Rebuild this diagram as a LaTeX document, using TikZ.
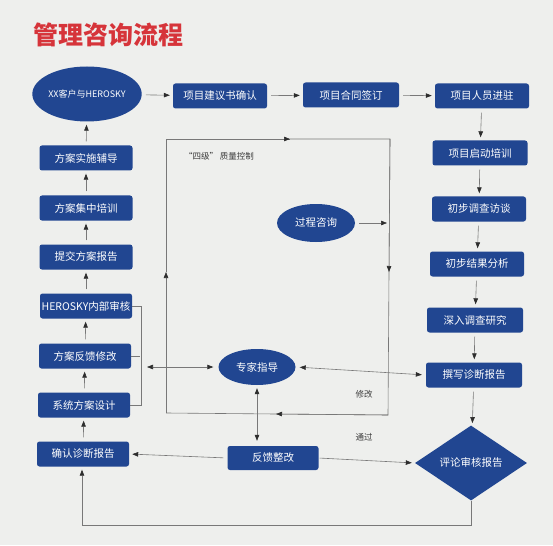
\documentclass[tikz,border=0pt]{standalone}
\usepackage{fontspec}
\setmainfont{Noto Sans CJK SC}
\usetikzlibrary{arrows.meta,shapes.geometric}
\definecolor{boxblue}{RGB}{33,70,145}
\definecolor{titlered}{RGB}{214,52,58}
\definecolor{bgc}{RGB}{238,239,237}
\definecolor{lnc}{RGB}{120,120,120}
\definecolor{tipc}{RGB}{45,45,45}
\definecolor{lblc}{RGB}{60,60,60}
\begin{document}
\begin{tikzpicture}[x=1pt,y=-1pt,
  box/.style={fill=boxblue, rounded corners=2.5pt, text=white, minimum width=94pt, minimum height=25pt, inner sep=0pt, font=\fontsize{10.5}{12}\selectfont},
  oval/.style={ellipse, fill=boxblue, text=white, inner sep=0pt, font=\fontsize{10.5}{12}\selectfont},
  dia/.style={diamond, fill=boxblue, text=white, inner sep=0pt, minimum width=112pt, minimum height=75pt, aspect=1.5, font=\fontsize{10.5}{12}\selectfont},
  line/.style={draw=lnc, line width=0.6pt},
  conn/.style={line, -{Triangle[length=6pt,width=4.5pt,color=tipc]}},
  bconn/.style={line, {Triangle[length=6pt,width=4.5pt,color=tipc]}-{Triangle[length=6pt,width=4.5pt,color=tipc]}},
  gap/.style={shorten >=3pt, shorten <=4pt},
  lbl/.style={text=lblc, font=\fontsize{8.5}{10}\selectfont, inner sep=0pt}]
\fill[bgc] (0,0) rectangle (553,545);
\useasboundingbox (0,0) rectangle (553,545);

\node[text=titlered, font=\fontsize{25}{28}\bfseries\selectfont, inner sep=0pt] (title) at (108,35) {管理咨询流程};

% top row
\node[oval, minimum width=103pt, minimum height=55pt, font=\fontsize{9}{11}\selectfont] (client) at (87,94) {XX客户与HEROSKY};
\node[box] (jyshu) at (220,96) {项目建议书确认};
\node[box, minimum width=96pt] (hetong) at (351,95) {项目合同签订};
\node[box] (renyuan) at (482,96) {项目人员进驻};

% right column
\node[box, minimum width=95pt] (qidong) at (480,153) {项目启动培训};
\node[box] (fangtan) at (479,209) {初步调查访谈};
\node[box] (jieguo) at (477,264) {初步结果分析};
\node[box, minimum width=96pt] (shenru) at (475,320) {深入调查研究};
\node[box, minimum width=96pt] (zhuanxie) at (474,375) {撰写诊断报告};
\node[dia] (pinglun) at (471,463) {评论审核报告};

% left column
\node[box, minimum width=93pt] (shishi) at (86,158) {方案实施辅导};
\node[box, minimum width=93pt] (jizhong) at (86,208) {方案集中培训};
\node[box, minimum width=93pt] (tijiao) at (86,257) {提交方案报告};
\node[box, minimum width=92pt] (neibu) at (86,306) {HEROSKY内部审核};
\node[box, minimum width=92pt] (fankui) at (85,356) {方案反馈修改};
\node[box, minimum width=92pt] (sheji) at (84,405) {系统方案设计};
\node[box, minimum width=92pt] (queren) at (83,454) {确认诊断报告};

% centre
\node[oval, minimum width=78pt, minimum height=38pt] (guocheng) at (316,223) {过程咨询};
\node[oval, minimum width=77pt, minimum height=36pt] (zhuanjia) at (257,367) {专家指导};
\node[box, minimum width=91pt, minimum height=24pt] (zhenggai) at (273,458) {反馈整改};

% labels
\node[lbl] (siji) at (219,156) {“四级” 质量控制};
\node[lbl] (xiugai) at (364,394) {修改};
\node[lbl] (tongguo) at (364,437) {通过};

% top row arrows
\draw[conn, gap] (client) -- (jyshu);
\draw[conn, gap] (jyshu) -- (hetong);
\draw[conn, gap] (hetong) -- (renyuan);

% right column arrows
\draw[conn, gap] (renyuan) -- (qidong);
\draw[conn, gap] (qidong) -- (fangtan);
\draw[conn, gap] (fangtan) -- (jieguo);
\draw[conn, gap] (jieguo) -- (shenru);
\draw[conn, gap] (shenru) -- (zhuanxie);
\draw[conn, gap] (zhuanxie) -- (pinglun);

% left column arrows
\draw[conn, gap] (queren) -- (sheji);
\draw[conn, gap] (sheji) -- (fankui);
\draw[conn, gap] (fankui) -- (neibu);
\draw[conn, gap] (neibu) -- (tijiao);
\draw[conn, gap] (tijiao) -- (jizhong);
\draw[conn, gap] (jizhong) -- (shishi);
\draw[conn, gap] (shishi) -- (client);

% bracket
\coordinate (br) at (140,356);
\draw[line] (neibu.east) -- ++(9,0) |- (sheji.east);
\draw[line] (fankui.east) -- (br);
\draw[bconn, shorten <=7pt, shorten >=5pt] (br |- zhuanjia) -- (zhuanjia.west);

% expert links
\draw[bconn, shorten <=4pt, shorten >=4pt] (zhuanjia.east) -- (zhuanxie.west);
\draw[bconn, shorten <=3pt, shorten >=5pt] (zhuanjia.south) -- (zhenggai.north -| zhuanjia.south);

% feedback
\draw[conn, gap] (zhenggai.west) -- (queren.east);
\draw[conn, shorten <=1pt, shorten >=3pt] (zhenggai.east) -- (pinglun.west);

% bottom return
\coordinate (brr) at (471,525);
\coordinate (brl) at (82,525);
\draw[line] (pinglun.south) -- (brr) -- (brl);
\draw[conn, shorten >=3pt] (brl) -- (queren.south -| brl);

% quality loop
\coordinate (lt) at (166,139);
\coordinate (rt) at (390,139);
\coordinate (rb) at (388,415);
\coordinate (lb) at (166,413);
\coordinate (lm) at (166,272);
\coordinate (tm) at (290,139);
\coordinate (rm) at (389,272);
\coordinate (bm) at (276,414);
\coordinate (gp) at (389,223);
\draw[conn] (lb) -- (lm);
\draw[line] (lm) -- (lt) -- (tm);
\draw[conn] (lt) -- (tm);
\draw[line] (tm) -- (rt) -- (rm);
\draw[conn] (rt) -- (rm);
\draw[line] (rm) -- (rb) -- (bm);
\draw[conn] (rb) -- (bm);
\draw[line] (bm) -- (lb);
\draw[conn, shorten <=4pt, shorten >=2pt] (guocheng.east) -- (gp);
\end{tikzpicture}
\end{document}
